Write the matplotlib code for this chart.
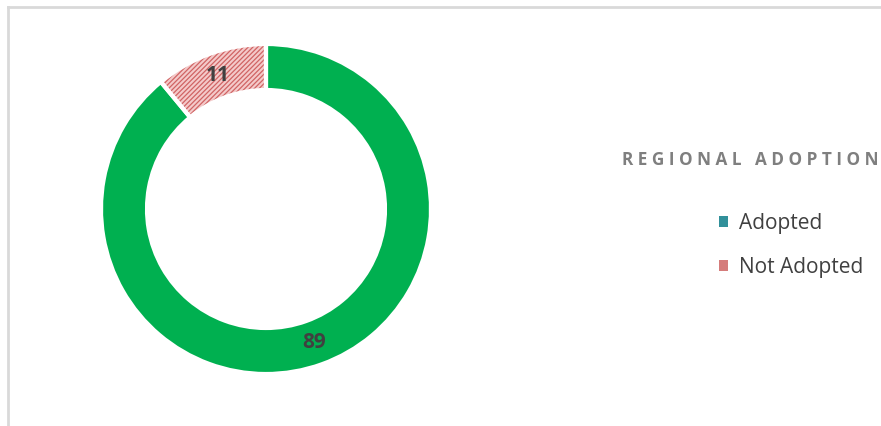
import matplotlib
matplotlib.use("Agg")
import matplotlib.pyplot as plt
from matplotlib.patches import Patch
from matplotlib.lines import Line2D
import numpy as np

categories = ["Adopted", "Not Adopted"]
values = [89, 11]
legend_title = "REGIONAL ADOPTION"

slice_colors = ["#00B050", "#F4CACA"]
hatch_colors = ["#00B050", "#D06464"]
hatches = [None, "/" * 7]
legend_colors = ["#31909A", "#D57C7B"]

W, H = 881, 426
fig = plt.figure(figsize=(W / 100, H / 100), dpi=100)
fig.patch.set_facecolor("white")

# chart border (top and left visible)
fig.add_artist(Line2D([8 / W, 8 / W], [0, 1 - 6.5 / H], color="#D9D9D9", lw=2, transform=fig.transFigure))
fig.add_artist(Line2D([8 / W, 1.01], [1 - 6.5 / H, 1 - 6.5 / H], color="#D9D9D9", lw=2, transform=fig.transFigure))

cx, cy, R = 266, H - 209, 165
ax = fig.add_axes([(cx - R) / W, (cy - R) / H, 2 * R / W, 2 * R / H])

plt.rcParams["hatch.linewidth"] = 0.9
ring = 46 / 165
wedges, _ = ax.pie(values, radius=1, startangle=90, counterclock=False,
                   colors=slice_colors, wedgeprops=dict(width=ring, linewidth=0))
for w, hc, h in zip(wedges, hatch_colors, hatches):
    w.set_edgecolor(hc)
    w.set_linewidth(0)
    if h:
        w.set_hatch(h)
wedges[0].set_edgecolor("#1C9C78")
wedges[0].set_linewidth(0.8)

# white separators
ax.pie(values, radius=1, startangle=90, counterclock=False,
       wedgeprops=dict(width=ring, facecolor="none", edgecolor="white", linewidth=3))

ax.set_xlim(-1, 1)
ax.set_ylim(-1, 1)
ax.set_aspect("equal")
ax.axis("off")

# data labels
total = sum(values)
cum = 0
rmid = 1 - ring / 2
for v in values:
    mid = 90 - (cum + v / 2) / total * 360
    cum += v
    ax.text(rmid * np.cos(np.radians(mid)), rmid * np.sin(np.radians(mid)), str(v),
            ha="center", va="center", fontsize=15, fontweight="bold",
            color="#404040", family="Open Sans")

# legend title
fig.text(622 / W, 1 - 160 / H, " ".join(legend_title),
         ha="left", va="center", fontsize=12.3, fontweight="bold", color="#7F7F7F",
         family="Open Sans")

handles = [Patch(facecolor=c, edgecolor="none") for c in legend_colors]
leg = fig.legend(handles, categories, loc="upper left",
                 bbox_to_anchor=(700 / W, 1 - 194 / H), frameon=False,
                 prop=dict(family="Open Sans", size=15), handlelength=0.45,
                 handleheight=0.42, handletextpad=0.5, labelspacing=1.1,
                 labelcolor="#404040")

fig.savefig("out.png", dpi=100, facecolor="white")
